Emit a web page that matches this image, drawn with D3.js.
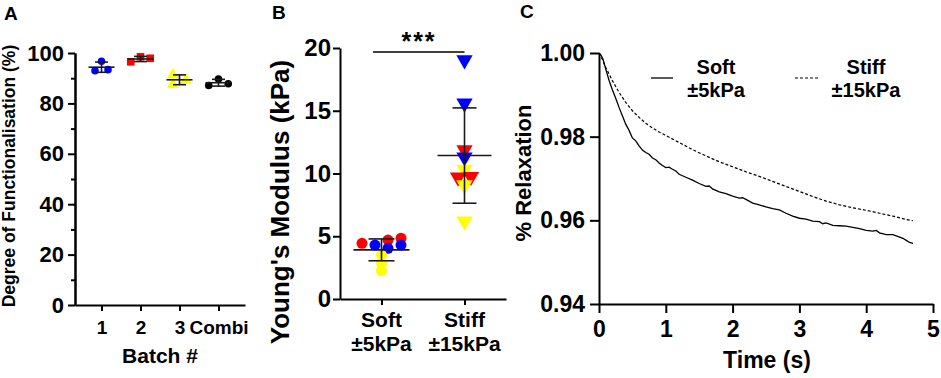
<!DOCTYPE html>
<html>
<head>
<meta charset="utf-8">
<script src="https://cdn.jsdelivr.net/npm/d3@7"></script>
<style>
  body { margin: 0; background: #fff; }
  svg text { font-family: "Liberation Sans", Arial, sans-serif; font-weight: bold; fill: #000; }
</style>
</head>
<body>
<div id="chart"></div>
<script>
// ---- panel A: degree of functionalisation per batch ----
const batches = ["1", "2", "3", "Combi"];
const batchValues = [
    [96.7, 93.0, 93.4],
    [96.5, 98.5, 97.9],
    [91.4, 87.5, 89.2],
    [89.7, 87.1, 87.8]
];
const batchSlots = [
    [0, -1, 1],
    [-1.5, 0, 1.5],
    [-1, -1, 1],
    [0, -1.5, 1.5]
];
const batchColors = ["#0000ff", "#ff0000", "#ffff00", "#000000"];
const batchShapes = ["circle", "square", "triangle", "circle"];
const batchTicks = [0, 20, 40, 60, 80, 100];
const batchMinorTicks = [10, 30, 50, 70, 90];

// ---- panel B: Young's modulus ----
const gels = ["Soft", "Stiff"];
const gelLabels = [["Soft", "±5kPa"], ["Stiff", "±15kPa"]];
const softValues = [4.44, 4.30, 4.70, 4.04, 4.84, 4.30, 3.50, 2.87, 2.26];
const softColors = ["#ff0000", "#0000ff", "#ff0000", "#0000ff", "#ff0000", "#0000ff", "#ffff00", "#ffff00", "#ffff00"];
const softSlots = [-3, -1, 1, 1, 3, 3, 0, 0, 0];
const stiffValues = [19.04, 15.6, 11.87, 11.3, 10.33, 9.7, 9.75, 9.08, 6.2];
const stiffColors = ["#0000ff", "#0000ff", "#ff0000", "#0000ff", "#ffff00", "#ff0000", "#ff0000", "#ffff00", "#ffff00"];
const stiffSlots = [0, 0, 0, 0, 0, -1, 1, 0, 0];
const modulusTicks = [0, 5, 10, 15, 20];

// ---- panel C: stress relaxation ----
const softTime = [0, 0.03, 0.06, 0.1, 0.15, 0.2, 0.25, 0.3, 0.35, 0.4, 0.45, 0.5, 0.55, 0.6, 0.65, 0.7, 0.75, 0.8, 0.85, 0.9, 0.95, 1.0,
    1.05, 1.1, 1.15, 1.2, 1.3, 1.4, 1.5, 1.6, 1.65, 1.7, 1.8, 1.9, 2.0, 2.1, 2.15, 2.2, 2.3, 2.4, 2.5, 2.6, 2.7, 2.8, 2.9, 3.0, 3.1,
    3.2, 3.3, 3.35, 3.4, 3.5, 3.6, 3.7, 3.8, 3.9, 4.0, 4.1, 4.15, 4.2, 4.3, 4.4, 4.5, 4.55, 4.6, 4.65, 4.7];
const softRelax = [1.000, 0.9995, 0.9985, 0.9962, 0.9935, 0.9912, 0.9892, 0.9870, 0.9850, 0.9830, 0.9815, 0.9797, 0.9790, 0.9778,
    0.9768, 0.9762, 0.9758, 0.9749, 0.9745, 0.9737, 0.9731, 0.9726, 0.9727, 0.9722, 0.9718, 0.9710, 0.9703, 0.9696, 0.9688, 0.9681,
    0.9682, 0.9675, 0.9668, 0.9664, 0.9658, 0.9653, 0.9654, 0.9650, 0.9641, 0.9637, 0.9632, 0.9628, 0.9625, 0.9617, 0.9610, 0.9605,
    0.9603, 0.9598, 0.9597, 0.9592, 0.9594, 0.9588, 0.9587, 0.9586, 0.9583, 0.9580, 0.9576, 0.9574, 0.9576, 0.9570, 0.9566, 0.9566,
    0.9560, 0.9557, 0.9552, 0.9547, 0.9545];
const stiffTime = [0, 0.05, 0.1, 0.2, 0.3, 0.4, 0.5, 0.6, 0.7, 0.8, 0.9, 1.0, 1.2, 1.4, 1.6, 1.8, 2.0, 2.2, 2.4, 2.6, 2.8, 3.0,
    3.2, 3.4, 3.6, 3.8, 4.0, 4.2, 4.4, 4.6, 4.7];
const stiffRelax = [1.000, 0.9985, 0.9966, 0.9934, 0.9906, 0.9882, 0.9862, 0.9846, 0.9832, 0.9821, 0.9811, 0.9803, 0.9786, 0.9769,
    0.9754, 0.9740, 0.9728, 0.9716, 0.9705, 0.9693, 0.9681, 0.9669, 0.9657, 0.9646, 0.9637, 0.9630, 0.9624, 0.9617, 0.9610, 0.9602, 0.9599];
const timeTicks = [0, 1, 2, 3, 4, 5];
const relaxTicks = [0.94, 0.96, 0.98, 1.00];

const svg = d3.select("#chart").append("svg")
    .attr("width", 941)
    .attr("height", 378);

svg.append("rect").attr("width", 941).attr("height", 378).attr("fill", "#fff");

function styleAxis(g, fontSize) {
    g.select(".domain").attr("stroke", "#000").attr("stroke-width", 2);
    g.selectAll(".tick line").attr("stroke", "#000").attr("stroke-width", 2);
    g.selectAll(".tick text").style("font-size", fontSize + "px").attr("fill", "#000");
}

function drawMarker(g, shape, x, y, color, size) {
    if (shape === "circle") {
        g.append("circle").attr("cx", x).attr("cy", y).attr("r", size).attr("fill", color);
    } else if (shape === "square") {
        g.append("rect").attr("x", x - size).attr("y", y - size)
            .attr("width", size * 2).attr("height", size * 2).attr("fill", color);
    } else {
        const path = d3.symbol().type(d3.symbolTriangle).size(size * size * 3.2)();
        const rot = shape === "down" ? 180 : 0;
        g.append("path").attr("d", path)
            .attr("transform", "translate(" + x + "," + y + ") rotate(" + rot + ")")
            .attr("fill", color);
    }
}

function drawErrorBar(g, x, values, y, meanHalf, capHalf) {
    const m = d3.mean(values);
    const sd = d3.deviation(values);
    g.append("line").attr("x1", x).attr("x2", x).attr("y1", y(m - sd)).attr("y2", y(m + sd));
    g.append("line").attr("x1", x - meanHalf).attr("x2", x + meanHalf).attr("y1", y(m)).attr("y2", y(m));
    g.append("line").attr("x1", x - capHalf).attr("x2", x + capHalf).attr("y1", y(m + sd)).attr("y2", y(m + sd));
    g.append("line").attr("x1", x - capHalf).attr("x2", x + capHalf).attr("y1", y(m - sd)).attr("y2", y(m - sd));
    g.selectAll("line").attr("stroke", "#1a1a1a").attr("stroke-width", 1.6);
}

// ================= Panel A =================
const yA = d3.scaleLinear().domain([0, 100]).range([305, 53]);
const xA = d3.scalePoint().domain(batches).range([75, 245]).padding(0.68);

svg.append("g").attr("transform", "translate(75,0)")
    .call(d3.axisLeft(yA).tickValues(batchMinorTicks).tickSize(4).tickSizeOuter(0).tickFormat(""))
    .call(g => styleAxis(g, 22));
svg.append("g").attr("transform", "translate(75,0)")
    .call(d3.axisLeft(yA).tickValues(batchTicks).tickSize(7).tickSizeOuter(0).tickPadding(4))
    .call(g => styleAxis(g, 22));
svg.append("g").attr("transform", "translate(0,305)")
    .call(d3.axisBottom(xA).tickSize(6).tickSizeOuter(0).tickPadding(10))
    .call(g => styleAxis(g, 19));

batches.forEach((b, i) => {
    const g = svg.append("g");
    batchValues[i].forEach((v, j) => {
        const shape = batchShapes[i];
        const size = shape === "triangle" ? 4.4 : 3.8;
        drawMarker(g, shape, xA(b) + batchSlots[i][j] * 6.5, yA(v), batchColors[i], size);
    });
    drawErrorBar(svg.append("g"), xA(b), batchValues[i], yA, 13, 6.5);
});

svg.append("text").attr("x", 160).attr("y", 363).attr("text-anchor", "middle")
    .style("font-size", "21px").text("Batch #");
svg.append("text").attr("transform", "translate(15,176) rotate(-90)").attr("text-anchor", "middle")
    .style("font-size", "17.5px").text("Degree of Functionalisation (%)");
svg.append("text").attr("x", 4).attr("y", 20).style("font-size", "19px").text("A");

// ================= Panel B =================
const yB = d3.scaleLinear().domain([0, 20]).range([299, 48]);
const xB = d3.scalePoint().domain(gels).range([340, 506]).padding(0.5);

svg.append("g").attr("transform", "translate(340,0)")
    .call(d3.axisLeft(yB).tickValues(modulusTicks).tickSize(7).tickSizeOuter(0).tickPadding(2))
    .call(g => styleAxis(g, 24));
svg.append("g").attr("transform", "translate(0,299)")
    .call(d3.axisBottom(xB).tickSize(6).tickSizeOuter(0).tickFormat(""))
    .call(g => styleAxis(g, 20));

gels.forEach((gel, i) => {
    const t = svg.append("text").attr("text-anchor", "middle").style("font-size", "21px");
    t.append("tspan").attr("x", xB(gel)).attr("y", 327).text(gelLabels[i][0]);
    t.append("tspan").attr("x", xB(gel)).attr("y", 351).text(gelLabels[i][1]);
});

const softG = svg.append("g");
softValues.forEach((v, j) => {
    drawMarker(softG, "circle", xB("Soft") + softSlots[j] * 6.5, yB(v), softColors[j], 5.5);
});
const stiffG = svg.append("g");
stiffValues.forEach((v, j) => {
    drawMarker(stiffG, "down", xB("Stiff") + stiffSlots[j] * 6.5, yB(v), stiffColors[j], 6);
});
drawErrorBar(svg.append("g"), xB("Soft"), softValues, yB, 28, 13);
drawErrorBar(svg.append("g"), xB("Stiff"), stiffValues, yB, 27, 12);

svg.append("line").attr("x1", 373).attr("x2", xB("Stiff")).attr("y1", 52).attr("y2", 52)
    .attr("stroke", "#000").attr("stroke-width", 1.6);
svg.append("text").attr("x", 419).attr("y", 50).attr("text-anchor", "middle")
    .style("font-size", "25px").style("letter-spacing", "2px").text("***");

svg.append("text").attr("transform", "translate(289,202) rotate(-90)").attr("text-anchor", "middle")
    .style("font-size", "26px").text("Young's Modulus (kPa)");
svg.append("text").attr("x", 272).attr("y", 19).style("font-size", "19px").text("B");

// ================= Panel C =================
const xC = d3.scaleLinear().domain([0, 5]).range([599, 933]);
const yC = d3.scaleLinear().domain([0.94, 1.0]).range([304, 53]);

svg.append("g").attr("transform", "translate(599,0)")
    .call(d3.axisLeft(yC).tickValues(relaxTicks).tickSize(9).tickSizeOuter(0).tickPadding(5).tickFormat(d3.format(".2f")))
    .call(g => styleAxis(g, 23));
svg.append("g").attr("transform", "translate(0,304)")
    .call(d3.axisBottom(xC).tickValues(timeTicks).tickSize(9).tickSizeOuter(0).tickPadding(8).tickFormat(d3.format("d")))
    .call(g => styleAxis(g, 23));

const line = d3.line().x(d => xC(d[0])).y(d => yC(d[1]));
svg.append("path").datum(d3.zip(stiffTime, stiffRelax)).attr("d", line)
    .attr("fill", "none").attr("stroke", "#000").attr("stroke-width", 1.2).attr("stroke-dasharray", "3,2");
svg.append("path").datum(d3.zip(softTime, softRelax)).attr("d", line)
    .attr("fill", "none").attr("stroke", "#000").attr("stroke-width", 1.3);

// legend
svg.append("line").attr("x1", 651).attr("x2", 673).attr("y1", 78).attr("y2", 78)
    .attr("stroke", "#000").attr("stroke-width", 1.3);
svg.append("line").attr("x1", 795).attr("x2", 818).attr("y1", 78).attr("y2", 78)
    .attr("stroke", "#000").attr("stroke-width", 1.2).attr("stroke-dasharray", "3,2");
[["Soft", "±5kPa", 716], ["Stiff", "±15kPa", 866]].forEach(d => {
    const t = svg.append("text").attr("text-anchor", "middle").style("font-size", "20px");
    t.append("tspan").attr("x", d[2]).attr("y", 74).text(d[0]);
    t.append("tspan").attr("x", d[2]).attr("y", 97).text(d[1]);
});

svg.append("text").attr("x", 767).attr("y", 368).attr("text-anchor", "middle")
    .style("font-size", "23px").text("Time (s)");
svg.append("text").attr("transform", "translate(531,173) rotate(-90)").attr("text-anchor", "middle")
    .style("font-size", "22px").text("% Relaxation");
svg.append("text").attr("x", 520).attr("y", 18).style("font-size", "19px").text("C");
</script>
</body>
</html>
